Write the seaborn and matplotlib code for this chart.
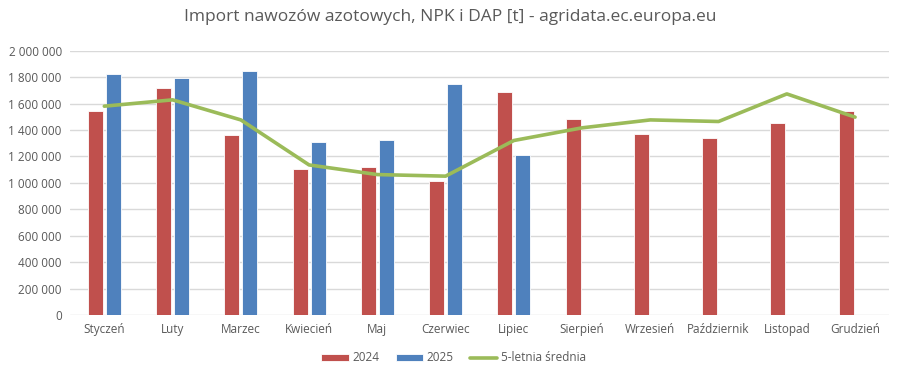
import seaborn as sns
import matplotlib.pyplot as plt
import pandas as pd
import numpy as np
from matplotlib.ticker import FuncFormatter

# dane [t]
months = ['Styczeń', 'Luty', 'Marzec', 'Kwiecień', 'Maj', 'Czerwiec', 'Lipiec',
          'Sierpień', 'Wrzesień', 'Październik', 'Listopad', 'Grudzień']
imp_2024 = [1545000, 1717000, 1364000, 1106000, 1124000, 1018000, 1692000,
            1482000, 1369000, 1338000, 1452000, 1545000]
imp_2025 = [1828000, 1798000, 1851000, 1313000, 1326000, 1747000, 1212000,
            np.nan, np.nan, np.nan, np.nan, np.nan]
avg_5y = [1581000, 1629000, 1477000, 1136000, 1063000, 1051000, 1321000,
          1417000, 1477000, 1465000, 1674000, 1498000]

df = pd.DataFrame({
    'miesiac': months * 2,
    'rok': ['2024'] * 12 + ['2025'] * 12,
    'import': imp_2024 + imp_2025,
})

sns.set_style('white')
plt.rcParams['font.family'] = ['Open Sans', 'DejaVu Sans']
grey = '#595959'

fig = plt.figure(figsize=(9, 3.74), dpi=100)
ax = fig.add_axes([0.078, 0.158, 0.91, 0.706])

sns.barplot(data=df, x='miesiac', y='import', hue='rok', order=months,
            palette={'2024': '#C0504D', '2025': '#4F81BD'}, saturation=1,
            width=0.53, gap=0.17, edgecolor='white', linewidth=0.6,
            ax=ax, legend=True, zorder=3)
sns.lineplot(x=months, y=avg_5y, sort=False, color='#9BBB59', linewidth=2.6,
             ax=ax, label='5-letnia średnia', zorder=4)

ax.set_ylim(0, 2000000)
ax.set_xlim(-0.5, 11.5)
ax.set_yticks(range(0, 2000001, 200000))
ax.yaxis.set_major_formatter(FuncFormatter(lambda v, p: f'{v:,.0f}'.replace(',', ' ')))
ax.grid(axis='y', color='#D9D9D9', linewidth=1, zorder=0)
ax.set_axisbelow(True)
for s in ax.spines.values():
    s.set_visible(False)
ax.tick_params(axis='both', length=0, labelsize=8.5, colors=grey, pad=6)
ax.set_xlabel('')
ax.set_ylabel('')

fig.suptitle('Import nawozów azotowych, NPK i DAP [t] - agridata.ec.europa.eu',
             fontsize=12.5, color=grey, y=0.975)

handles, labels = ax.get_legend_handles_labels()
ax.get_legend().remove()
fig.legend(handles, labels, loc='center', bbox_to_anchor=(0.504, 0.043),
           ncol=3, frameon=False, fontsize=8.5, labelcolor=grey,
           handlelength=2.3, handleheight=0.5, columnspacing=1.4, handletextpad=0.3)

plt.savefig('out.png', dpi=100)
